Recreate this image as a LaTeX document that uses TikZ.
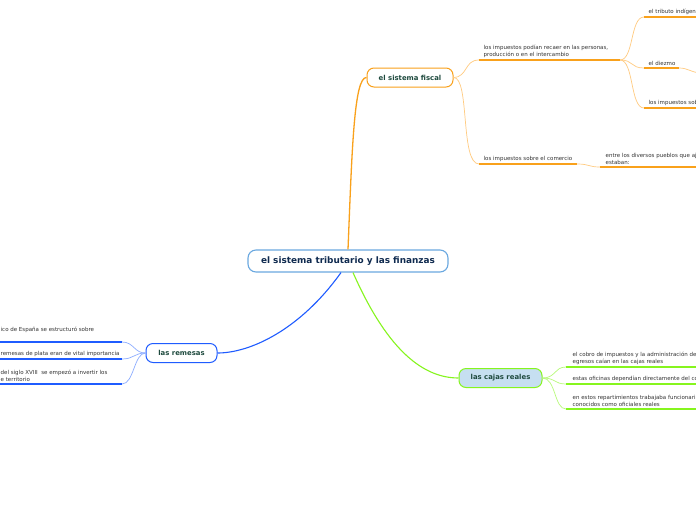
\documentclass[tikz,border=0pt]{standalone}
\usepackage{fontspec}
\setmainfont{DejaVu Sans}
\usepackage{tikz}
\definecolor{mainblue}{HTML}{6AA8E0}
\definecolor{navytext}{HTML}{0F2A4F}
\definecolor{subtext}{HTML}{1E4A3E}
\definecolor{leaftext}{HTML}{333333}
\definecolor{fisc}{HTML}{F9A11B}
\definecolor{fiscthin}{HTML}{FFCB80}
\definecolor{rem}{HTML}{1F5CFF}
\definecolor{remthin}{HTML}{8DADFF}
\definecolor{caja}{HTML}{86F51E}
\definecolor{cajathin}{HTML}{B8FA7A}
\definecolor{cajafill}{HTML}{C6DFF1}

\begin{document}
\begin{tikzpicture}[x=1pt,y=-1pt]
 \tikzstyle{mainbox}=[rectangle,draw=mainblue,line width=1.1pt,rounded corners=8pt,
   fill=white,minimum width=200pt,minimum height=22pt,text centered,
   font=\bfseries\fontsize{8.9}{10}\selectfont,text=navytext]
 \tikzstyle{subbox}=[rectangle,line width=1pt,rounded corners=7pt,fill=white,
   minimum height=19pt,text centered,font=\bfseries\fontsize{6.9}{8}\selectfont,text=subtext]
 \tikzstyle{leaf}=[anchor=south west,inner sep=0.5pt,align=left,text=leaftext,
   font=\fontsize{5.5}{7}\selectfont]
 \fill[white] (0,0) rectangle (696,520);
 \useasboundingbox (0,0) rectangle (696,520);
 \clip (0,0) rectangle (696,520);
 % topics
 \node (m) [mainbox] at (348,261) {el sistema tributario y las finanzas};
 \node (f) [subbox,draw=fisc,minimum width=86pt] at (410,77.5) {el sistema fiscal};
 \node (r) [subbox,draw=rem,minimum width=71pt] at (181.5,353) {las remesas};
 \node (c) [subbox,draw=caja,fill=cajafill,minimum width=83pt] at (500.5,378) {las cajas reales};
 % underline ends
 \coordinate (f1a) at (479,60);  \coordinate (f1b) at (620,60);
 \coordinate (f2a) at (479,164); \coordinate (f2b) at (577,164);
 \coordinate (t1a) at (644,17);  \coordinate (t1b) at (700,17);
 \coordinate (t2a) at (644,68);  \coordinate (t2b) at (679,68);
 \coordinate (t2c) at (700,73);
 \coordinate (t3a) at (644,108); \coordinate (t3b) at (700,108);
 \coordinate (e1a) at (600,167); \coordinate (e1b) at (700,167);
 \coordinate (r1a) at (122,342); \coordinate (r1b) at (-5,342);
 \coordinate (r2a) at (122,359); \coordinate (r2b) at (-5,359);
 \coordinate (r3a) at (122,384); \coordinate (r3b) at (-5,384);
 \coordinate (c1a) at (566,367); \coordinate (c1b) at (700,367);
 \coordinate (c2a) at (566,384); \coordinate (c2b) at (700,384);
 \coordinate (c3a) at (566,409); \coordinate (c3b) at (700,409);
 % leaf texts
 \node (l1) [leaf] at (483,58) {los impuestos podían recaer en las personas,\\producción o en el intercambio};
 \node (l2) [leaf] at (483,162) {los impuestos sobre el comercio};
 \node (l3) [leaf] at (648,15) {el tributo indígena};
 \node (l4) [leaf] at (648,66) {el diezmo};
 \node (l5) [leaf] at (648,106) {los impuestos sobre};
 \node (l6) [leaf] at (605,165) {entre los diversos pueblos que aj\\estaban:};
 \node (l7) [leaf] at (0,333) {ico de España se estructuró sobre};
 \node (l8) [leaf] at (0,357) {remesas de plata eran de vital importancia};
 \node (l9) [leaf] at (0,382) {del siglo XVIII\ \ se empezó a invertir los\\e territorio};
 \node (l10) [leaf] at (572,365) {el cobro de impuestos y la administración de\\egresos caían en las cajas reales};
 \node (l11) [leaf] at (572,382) {estas oficinas dependían directamente del co};
 \node (l12) [leaf] at (572,407) {en estos repartimientos trabajaba funcionari\\conocidos como oficiales reales};
 % main branches
 \draw[fisc,line width=1.3pt] (m.north) .. controls (352,150) and (354,77) .. (f.west);
 \draw[rem,line width=1.1pt] ([xshift=-7pt]m.south) .. controls (300,330) and (250,353) .. (r.east);
 \draw[caja,line width=1.1pt] ([xshift=5pt]m.south) .. controls (385,345) and (420,378) .. (c.west);
 % thin branches
 \draw[fiscthin,line width=0.7pt] (f.east) .. controls (468,77) and (464,60) .. (f1a);
 \draw[fiscthin,line width=0.7pt] (f.east) .. controls (470,77) and (460,164) .. (f2a);
 \draw[fiscthin,line width=0.7pt] (f1b) .. controls (634,60) and (630,17) .. (t1a);
 \draw[fiscthin,line width=0.7pt] (f1b) .. controls (634,60) and (630,68) .. (t2a);
 \draw[fiscthin,line width=0.7pt] (f1b) .. controls (634,60) and (630,108) .. (t3a);
 \draw[fiscthin,line width=0.7pt] (t2b) .. controls (688,68) and (690,72) .. (t2c);
 \draw[fiscthin,line width=0.7pt] (f2b) .. controls (590,164) and (588,167) .. (e1a);
 \draw[remthin,line width=0.7pt] (r.west) .. controls (134,353) and (134,342) .. (r1a);
 \draw[remthin,line width=0.7pt] (r.west) .. controls (134,353) and (134,359) .. (r2a);
 \draw[remthin,line width=0.7pt] (r.west) .. controls (134,353) and (134,384) .. (r3a);
 \draw[cajathin,line width=0.7pt] (c.east) .. controls (556,378) and (554,367) .. (c1a);
 \draw[cajathin,line width=0.7pt] (c.east) .. controls (556,378) and (554,384) .. (c2a);
 \draw[cajathin,line width=0.7pt] (c.east) .. controls (556,378) and (554,409) .. (c3a);
 % underlines
 \draw[fisc,line width=1.6pt] (f1a) -- (f1b);
 \draw[fisc,line width=1.6pt] (f2a) -- (f2b);
 \draw[fisc,line width=1.6pt] (t1a) -- (t1b);
 \draw[fisc,line width=1.6pt] (t2a) -- (t2b);
 \draw[fisc,line width=1.6pt] (t3a) -- (t3b);
 \draw[fisc,line width=1.6pt] (e1a) -- (e1b);
 \draw[rem,line width=1.6pt] (r1a) -- (r1b);
 \draw[rem,line width=1.6pt] (r2a) -- (r2b);
 \draw[rem,line width=1.6pt] (r3a) -- (r3b);
 \draw[caja,line width=1.6pt] (c1a) -- (c1b);
 \draw[caja,line width=1.6pt] (c2a) -- (c2b);
 \draw[caja,line width=1.6pt] (c3a) -- (c3b);
\end{tikzpicture}
\end{document}
